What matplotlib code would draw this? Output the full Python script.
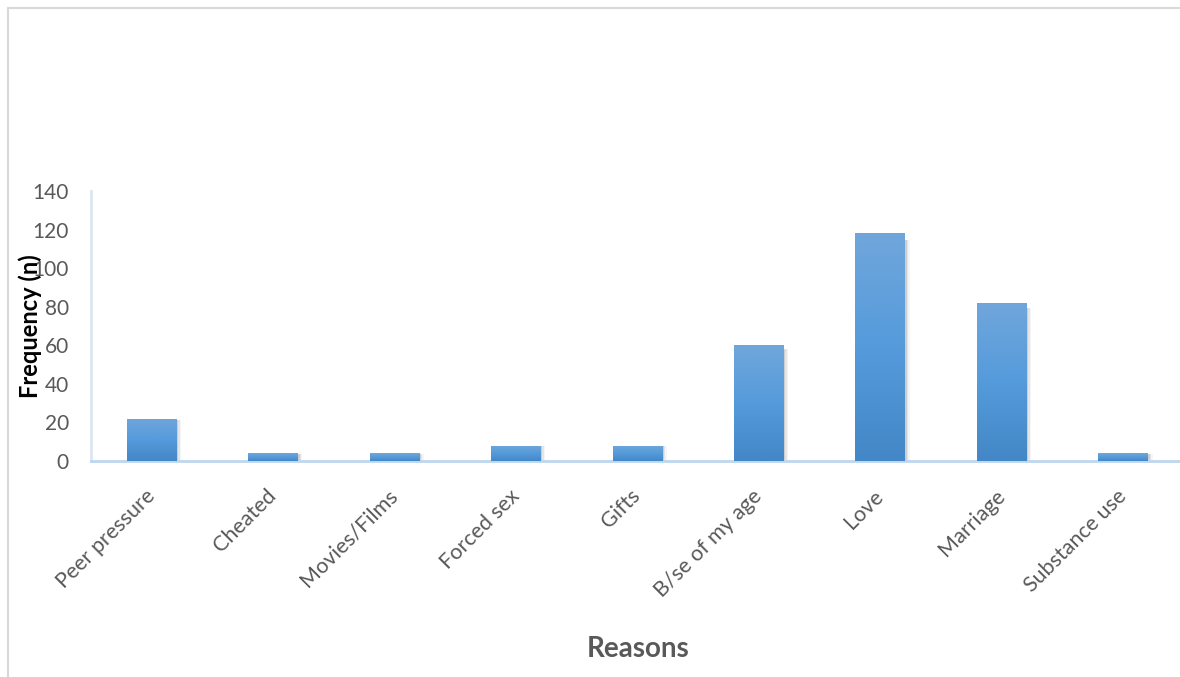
import numpy as np
import matplotlib.pyplot as plt
from matplotlib.lines import Line2D
from matplotlib.colors import LinearSegmentedColormap

plt.rcParams["font.family"] = ["Lato", "DejaVu Sans"]

reasons = ["Peer pressure", "Cheated", "Movies/Films", "Forced sex", "Gifts",
           "B/se of my age", "Love", "Marriage", "Substance use"]
frequency = [22, 4, 4, 8, 8, 60, 118, 82, 4]
y_ticks = [0, 20, 40, 60, 80, 100, 120, 140]

W, H = 1180, 677
fig = plt.figure(figsize=(W / 100, H / 100), dpi=100)

# outer chart-area border (partly cropped in the original)
fig.add_artist(Line2D([8 / W, 8 / W], [0, 1 - 8 / H], color="#D9D9D9", lw=1.5))
fig.add_artist(Line2D([8 / W, 1], [1 - 8 / H, 1 - 8 / H], color="#D9D9D9", lw=1.5))

# plot area: x 91..1184 px, y 191..461 px
ax = fig.add_axes([91 / W, (H - 461) / H, (1184 - 91) / W, (461 - 191) / H])
x = np.arange(len(reasons))
bars = ax.bar(x, frequency, width=0.41, color="#559BDB", zorder=2)

grad = LinearSegmentedColormap.from_list("g", ["#4387C6", "#559BDB", "#70A6DB"])
for b in bars:
    bx, by = b.get_x(), b.get_y()
    bw, bh = b.get_width(), b.get_height()
    # soft shadow on the right
    for i, a in enumerate([0.35, 0.2, 0.1]):
        ax.add_patch(plt.Rectangle((bx + bw, by), 0.012 * (i + 1), bh * 0.97,
                                   color="#A6A6A6", alpha=a, lw=0, zorder=1))
    im = ax.imshow(np.linspace(0, 1, 100).reshape(-1, 1), cmap=grad, origin="lower",
                   extent=[bx, bx + bw, by, by + bh], aspect="auto", zorder=3)
    im.set_clip_path(b)

ax.set_xlim(-0.5, len(reasons) - 0.5)
ax.set_ylim(0, 140)
ax.set_yticks(y_ticks)
ax.set_xticks(x)
ax.set_xticklabels(reasons, rotation=45, ha="right", va="center", rotation_mode="anchor",
                   fontsize=15.5, color="#595959")
ax.tick_params(axis="y", length=0, labelsize=15, labelcolor="#595959", pad=16)
ax.tick_params(axis="x", length=0, pad=23)

for s in ["top", "right"]:
    ax.spines[s].set_visible(False)
ax.spines["left"].set_color("#DCE6F2")
ax.spines["left"].set_linewidth(2)
ax.spines["bottom"].set_color("#BDD7EE")
ax.spines["bottom"].set_linewidth(2)

fig.text(30 / W, 1 - 326 / H, "Frequency (n)", rotation=90, ha="center", va="center",
         fontsize=17, fontweight="bold", color="black")
fig.text(638 / W, 1 - 649 / H, "Reasons", ha="center", va="center",
         fontsize=20, fontweight="bold", color="#595959")

fig.savefig("out.png", dpi=100, facecolor="white")
